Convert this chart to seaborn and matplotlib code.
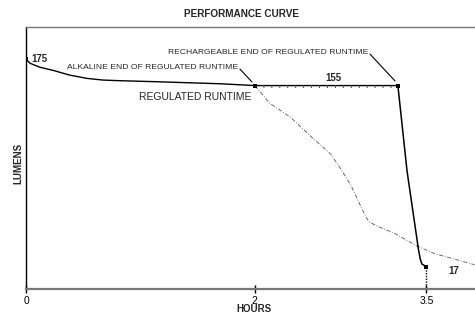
import matplotlib
matplotlib.use("Agg")
import matplotlib.pyplot as plt
import seaborn as sns
import pandas as pd

# ---- data ----
reg_hours = [0.0, 0.035, 0.12, 0.24, 0.38, 0.53, 0.67, 0.82, 1.11, 1.69, 2.0, 3.25]
reg_lumens = [175, 172, 169, 166.5, 163, 160.5, 159.2, 158.7, 158, 156.4, 155, 155]
drop_hours = [3.25, 3.33, 3.43, 3.445, 3.46, 3.5]
drop_lumens = [155, 90, 30, 23, 19, 17]
alk_hours = [2.0, 2.13, 2.31, 2.48, 2.66, 2.74, 2.84, 2.92, 2.97, 3.0, 3.08, 3.22, 3.41, 3.57, 3.92]
alk_lumens = [155, 141.5, 131, 117, 103, 93, 79, 64, 55, 51, 47.5, 42.5, 33, 27, 18.5]
marker_hours = [0.0, 2.0, 3.25, 3.5]
marker_lumens = [175, 155, 155, 17]
x_ticks = [0, 2, 3.5]
x_tick_labels = ["0", "2", "3.5"]

sns.set_style("white")
plt.rcParams["font.family"] = ["Liberation Sans", "DejaVu Sans"]

fig = plt.figure(figsize=(4.75, 3.14), dpi=100)
ax = fig.add_axes([26 / 475, 1 - 289 / 314, 1 - 26 / 475, (289 - 26.5) / 314])

reg = pd.DataFrame({"h": reg_hours, "l": reg_lumens})
drop = pd.DataFrame({"h": drop_hours, "l": drop_lumens})
alk = pd.DataFrame({"h": alk_hours, "l": alk_lumens})
mk = pd.DataFrame({"h": marker_hours, "l": marker_lumens})

sns.lineplot(data=alk, x="h", y="l", ax=ax, color="#555555", lw=0.6,
             linestyle=(0, (5, 2, 1, 2)), estimator=None, sort=False)
sns.lineplot(data=reg, x="h", y="l", ax=ax, color="black", lw=1.0,
             estimator=None, sort=False)
# tick texture on regulated flat section
flat = reg[reg["h"] >= 2.0]
ax.plot(flat["h"], flat["l"], color="#444444", lw=2.2, linestyle=(0, (0.3, 2.3)),
        solid_capstyle="butt", dash_capstyle="butt")
sns.lineplot(data=drop, x="h", y="l", ax=ax, color="black", lw=1.1,
             estimator=None, sort=False)
ax.plot([marker_hours[3], marker_hours[3]], [marker_lumens[3], 0], color="black",
        lw=1.0, linestyle=(0, (1, 1)))
sns.scatterplot(data=mk, x="h", y="l", ax=ax, marker="s", s=10, color="black",
                edgecolor="black", linewidth=0, zorder=5)

ax.set_xlim(0, 3.924)
ax.set_ylim(0, 200)
ax.set_xticks(x_ticks)
ax.set_xticklabels(x_tick_labels)
ax.set_yticks([])
ax.tick_params(axis="x", direction="inout", length=6, width=1, labelsize=7.5,
               pad=2, colors="black", bottom=True)
ax.set_xlabel("HOURS", fontsize=7, fontweight="bold")
ax.xaxis.set_label_coords((254 - 26) / 449, (289 - 309.5) / 262.5)
ax.xaxis.label.set_va("center")
ax.set_ylabel("LUMENS", fontsize=7, fontweight="bold")
ax.yaxis.set_label_coords((18 - 26) / 449, (289 - 163) / 262.5)
ax.yaxis.label.set_va("center")

ax.spines["right"].set_visible(False)
ax.spines["left"].set_color("black")
ax.spines["left"].set_linewidth(1.0)
ax.spines["bottom"].set_color("#777777")
ax.spines["bottom"].set_linewidth(1.6)
ax.spines["top"].set_color("#777777")
ax.spines["top"].set_linewidth(1.0)

fig.text(241 / 475, 1 - 14 / 314, "PERFORMANCE CURVE", ha="center", va="center",
         fontsize=7.2, fontweight="bold")

# labels
ax.text(0.05, 175, "175", fontsize=7, fontweight="bold", va="center", ha="left")
ax.text(2.685, 161, "155", fontsize=7, fontweight="bold", va="center", ha="center")
ax.text(3.74, 14, "17", fontsize=7, fontweight="bold", va="center", ha="center")
ax.text(0.99, 146.5, "REGULATED RUNTIME", fontsize=7.5, va="center", ha="left")

ax.text(1.85, 168.5, "ALKALINE END OF REGULATED RUNTIME", fontsize=6.1,
        ha="right", va="center")
ax.annotate("", xy=(1.975, 157.7), xytext=(1.87, 167.6),
            arrowprops=dict(arrowstyle="-", color="black", lw=0.8,
                            shrinkA=0, shrinkB=0))
ax.text(2.99, 180.5, "RECHARGEABLE END OF REGULATED RUNTIME", fontsize=6.1,
        ha="right", va="center")
ax.annotate("", xy=(3.225, 158.5), xytext=(3.006, 179),
            arrowprops=dict(arrowstyle="-", color="black", lw=0.8,
                            shrinkA=0, shrinkB=0))

fig.savefig("out.png", dpi=100)
